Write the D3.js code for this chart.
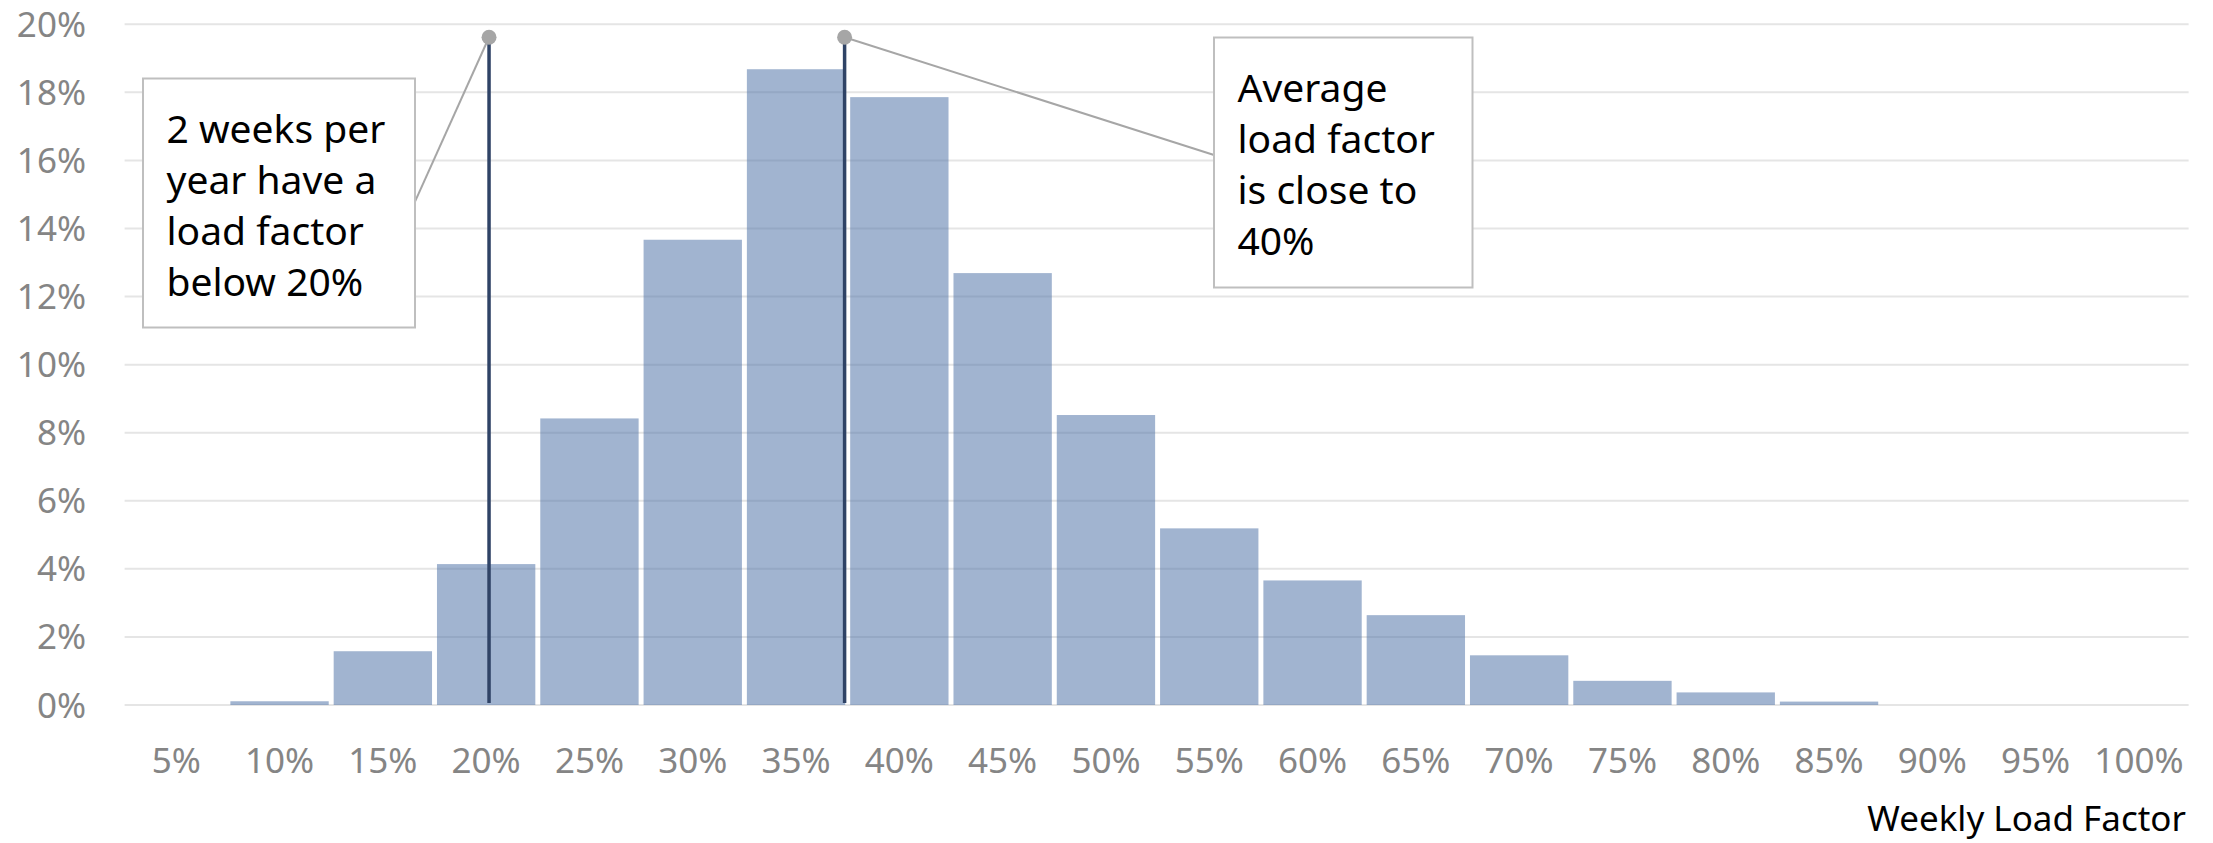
<!DOCTYPE html>
<html>
<head>
<meta charset="utf-8">
<script src="https://cdn.jsdelivr.net/npm/d3@7/dist/d3.min.js"></script>
<style>
  html, body { margin: 0; padding: 0; background: #fff; }
  svg { display: block; font-family: "Noto Sans", "Open Sans", sans-serif; }
</style>
</head>
<body>
<svg id="chart" width="2213" height="843"></svg>
<script>
// ---- data ----
const categories = ["5%","10%","15%","20%","25%","30%","35%","40%","45%","50%",
                    "55%","60%","65%","70%","75%","80%","85%","90%","95%","100%"];
const categoryValues = [5,10,15,20,25,30,35,40,45,50,55,60,65,70,75,80,85,90,95,100];
const shares = [0, 0.11, 1.58, 4.14, 8.42, 13.67, 18.68, 17.86, 12.69, 8.52,
                5.19, 3.66, 2.64, 1.46, 0.71, 0.37, 0.10, 0, 0, 0];
const yTicks = [0, 2, 4, 6, 8, 10, 12, 14, 16, 18, 20];
const yTickLabels = ["0%","2%","4%","6%","8%","10%","12%","14%","16%","18%","20%"];
const markerValues = [20.14, 37.35];     // load factor of the marker lines
const markerTop = 19.62;                 // height of the marker lines (%)
const annotationTexts = [
  ["2 weeks per", "year have a", "load factor", "below 20%"],
  ["Average", "load factor", "is close to", "40%"]
];
const xTitle = "Weekly Load Factor";

// ---- layout ----
const svg = d3.select("#chart");
const plotLeft = 124.6, plotRight = 2190.6, plotTop = 24.3, plotBottom = 705;

const x = d3.scaleBand().domain(categories).range([plotLeft, plotRight])
  .paddingInner(0.048).paddingOuter(0.024);
const xv = d3.scaleLinear()
  .domain([categoryValues[0], categoryValues[categoryValues.length - 1]])
  .range([x(categories[0]) + x.bandwidth() / 2,
          x(categories[categories.length - 1]) + x.bandwidth() / 2]);
const y = d3.scaleLinear().domain([0, 20]).range([plotBottom, plotTop]);

// gridlines
svg.append("g").selectAll("line").data(yTicks).join("line")
  .attr("x1", plotLeft).attr("x2", plotRight - 2)
  .attr("y1", d => y(d)).attr("y2", d => y(d))
  .attr("stroke", "#e5e5e5").attr("stroke-width", 2);

// y tick labels
svg.append("g").selectAll("text").data(yTicks).join("text")
  .attr("x", 86).attr("y", d => y(d) + 12.5)
  .attr("text-anchor", "end")
  .attr("font-size", 35).attr("fill", "#858585")
  .text((d, i) => yTickLabels[i]);

// x tick labels
svg.append("g").selectAll("text").data(categories).join("text")
  .attr("x", d => x(d) + x.bandwidth() / 2).attr("y", 773)
  .attr("text-anchor", "middle")
  .attr("font-size", 35).attr("fill", "#858585")
  .text(d => d);

// bars
svg.append("g").selectAll("rect").data(categories).join("rect")
  .attr("x", d => x(d))
  .attr("width", x.bandwidth())
  .attr("y", (d, i) => y(shares[i]))
  .attr("height", (d, i) => y(0) - y(shares[i]))
  .attr("fill", "#4a6fa5").attr("fill-opacity", 0.52);

// x axis title
svg.append("text").attr("x", 2186).attr("y", 831)
  .attr("text-anchor", "end").attr("font-size", 35).attr("fill", "#000")
  .text(xTitle);

// marker lines
svg.append("g").selectAll("line").data(markerValues).join("line")
  .attr("x1", d => xv(d)).attr("x2", d => xv(d))
  .attr("y1", y(markerTop)).attr("y2", y(0) - 2)
  .attr("stroke", "#2f4366").attr("stroke-width", 3.5);

// annotation boxes
const boxes = [
  { x0: 143, y0: 78.5, x1: 415, y1: 327.5, anchorY: 201.7, side: "right" },
  { x0: 1214, y0: 37.5, x1: 1472.5, y1: 287.5, anchorY: 155, side: "left" }
];
const ann = svg.append("g");
boxes.forEach((b, i) => {
  const ax = b.side === "right" ? b.x1 : b.x0;
  ann.append("line")
    .attr("x1", ax).attr("y1", b.anchorY)
    .attr("x2", xv(markerValues[i])).attr("y2", y(markerTop))
    .attr("stroke", "#a6a6a6").attr("stroke-width", 2);
  ann.append("rect")
    .attr("x", b.x0).attr("y", b.y0)
    .attr("width", b.x1 - b.x0).attr("height", b.y1 - b.y0)
    .attr("fill", "#fff").attr("stroke", "#bfbfbf").attr("stroke-width", 2);
  const t = ann.append("text").attr("font-size", 39).attr("fill", "#000");
  annotationTexts[i].forEach((line, j) => {
    t.append("tspan").attr("x", b.x0 + 23.5).attr("y", b.y0 + 64 + j * 51.3).text(line);
  });
});

// dots
svg.append("g").selectAll("circle").data(markerValues).join("circle")
  .attr("cx", d => xv(d)).attr("cy", y(markerTop)).attr("r", 7.5)
  .attr("fill", "#a6a6a6");
</script>
</body>
</html>
